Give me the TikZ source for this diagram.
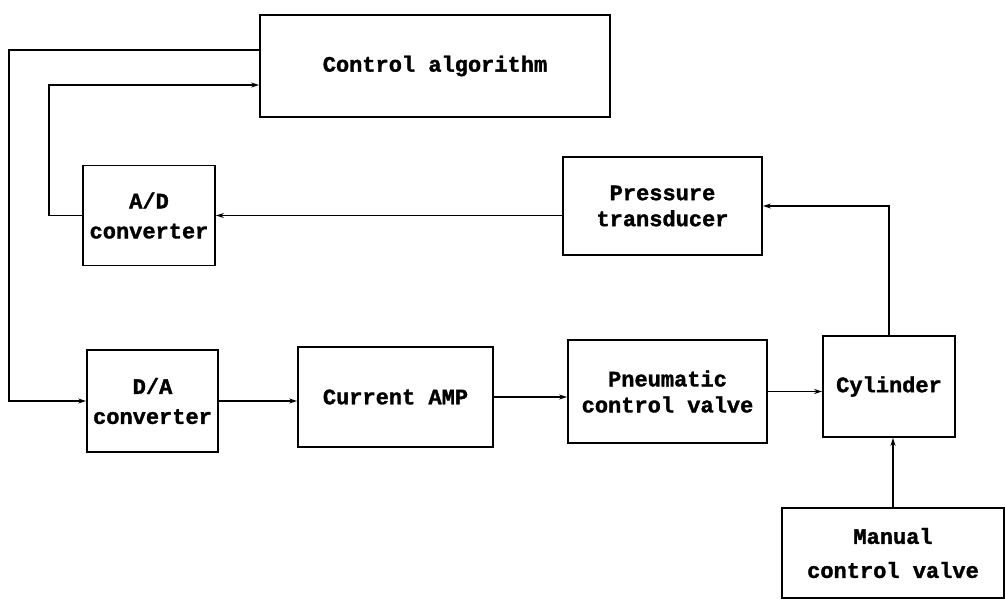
\documentclass[tikz,border=0pt]{standalone}
\usepackage{fontspec}
\newfontfamily\lblfont[BoldFeatures={FakeBold=1.5}]{Liberation Mono}
\usetikzlibrary{arrows.meta}
\begin{document}
\begin{tikzpicture}[x=1pt,y=-1pt,
  blk/.style={draw,line width=1.8pt,rectangle,align=center,inner sep=0pt,
    font=\lblfont\bfseries\fontsize{22}{26}\selectfont},
  link/.style={line width=1.5pt},
  arr/.style={link,-{Stealth[length=8pt,width=5pt]}}]
\useasboundingbox (0,0) rectangle (1005,599);
% blocks
\node[blk,minimum width=350pt,minimum height=102pt] (ctrl) at (435,66) {Control algorithm};
\node[blk,minimum width=132pt,minimum height=100pt] (ad) at (149,215.5) {A/D\\[4pt]converter};
\node[blk,minimum width=199pt,minimum height=98pt] (pt) at (662.5,206) {Pressure\\transducer};
\node[blk,minimum width=131pt,minimum height=102pt] (da) at (152.5,401) {D/A\\[4pt]converter};
\node[blk,minimum width=195pt,minimum height=100pt] (amp) at (395.5,397) {Current AMP};
\node[blk,minimum width=199pt,minimum height=103pt] (pv) at (667.5,391.5) {Pneumatic\\control valve};
\node[blk,minimum width=132pt,minimum height=101pt] (cyl) at (889,386.5) {Cylinder};
\node[blk,minimum width=222pt,minimum height=90pt] (mcv) at (893,553) {Manual\\[8pt]control valve};
% signal paths
\draw[arr] ([yshift=16pt]ctrl.west) -| ([xshift=-77pt]da.west) -- (da.west);
\draw[arr] (ad.west) -- ++(-33,0) |- ([yshift=-19pt]ctrl.west);
\draw[arr] (pt.west |- ad.east) -- (ad.east);
\draw[arr] (cyl.north) |- (pt.east);
\draw[arr] (da.east) -- (amp.west |- da.east);
\draw[arr] (amp.east) -- (pv.west |- amp.east);
\draw[arr] (pv.east) -- (cyl.west |- pv.east);
\draw[arr] (mcv.north) -- (cyl.south -| mcv.north);
\end{tikzpicture}
\end{document}
